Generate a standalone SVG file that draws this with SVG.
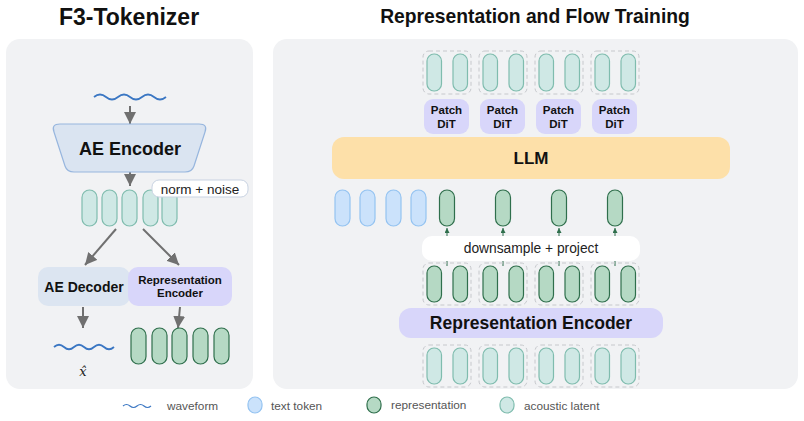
<svg xmlns="http://www.w3.org/2000/svg" width="804" height="421" viewBox="0 0 804 421">
<style>
.panel{fill:#f1f2f4}
.title{font-family:"Liberation Sans",Arial,sans-serif;font-weight:bold;fill:#111;text-anchor:middle}
.b{font-family:"Liberation Sans",Arial,sans-serif;font-weight:bold;fill:#111;text-anchor:middle}
.r{font-family:"Liberation Sans",Arial,sans-serif;fill:#222;text-anchor:middle}
.leg{font-family:"Liberation Sans",Arial,sans-serif;fill:#555;font-size:11.8px}
.ac{fill:#cfe8e5;stroke:#7fbcae;stroke-width:1.2}
.rep{fill:#b5d9c4;stroke:#2f6f4c;stroke-width:1.2}
.txt{fill:#cbe2fb;stroke:#94c3f1;stroke-width:1.2}
.grp{fill:none;stroke:#c6c8cc;stroke-width:1;stroke-dasharray:4 3}
.lav{fill:#d8d6fa}
.wave{fill:none;stroke:#3b77c3;stroke-width:1.8}
.arr{stroke:#707070;stroke-width:2;fill:none}
.up{stroke:#2f6f4c;stroke-width:1;fill:none}
</style>
<defs>
<marker id="ah" markerUnits="userSpaceOnUse" markerWidth="12" markerHeight="12" refX="12" refY="6" orient="auto"><path d="M0,0 L12,6 L0,12 z" fill="#707070"/></marker>
<marker id="ag" markerUnits="userSpaceOnUse" markerWidth="5" markerHeight="5" refX="5" refY="2.5" orient="auto"><path d="M0,0 L5,2.5 L0,5 z" fill="#2f6f4c"/></marker>
</defs>

<text class="title" x="129" y="25" font-size="23">F3-Tokenizer</text>
<text class="title" x="535" y="23" font-size="19.3">Representation and Flow Training</text>

<rect class="panel" x="6" y="39" width="247" height="350" rx="14"/>
<rect class="panel" x="273" y="39" width="525" height="350" rx="14"/>

<g id="connectors">
<line class="arr" x1="130" y1="106" x2="130" y2="124" marker-end="url(#ah)"/>
<line class="arr" x1="130" y1="172" x2="130" y2="186" marker-end="url(#ah)"/>
<line class="arr" x1="116" y1="229" x2="85" y2="265" marker-end="url(#ah)"/>
<line class="arr" x1="143" y1="229" x2="179" y2="265" marker-end="url(#ah)"/>
<line class="arr" x1="83" y1="307" x2="83" y2="328" marker-end="url(#ah)"/>
<line class="arr" x1="180" y1="307" x2="178" y2="328" marker-end="url(#ah)"/>
<line class="up" x1="447" y1="266" x2="447" y2="228" marker-end="url(#ag)"/>
<line class="up" x1="503" y1="266" x2="503" y2="228" marker-end="url(#ag)"/>
<line class="up" x1="559" y1="266" x2="559" y2="228" marker-end="url(#ag)"/>
<line class="up" x1="615" y1="266" x2="615" y2="228" marker-end="url(#ag)"/>
</g>

<g id="input-wave"><path class="wave" d="M94,97 q6,-5 12,0 t12,0 t12,0 t12,0 t12,0 t12,0"/></g>

<g id="ae-encoder">
<path d="M60,124 H199 Q208,124 205,132 L194,166 Q192,172 185,172 H74 Q67,172 65,166 L54,132 Q51,124 60,124 Z" fill="#dae4f1" stroke="#97b6de" stroke-width="1.2"/>
<text class="b" x="130" y="155" font-size="18">AE Encoder</text>
</g>

<g id="latent-tokens">
<rect class="ac" x="82" y="190" width="15" height="36" rx="7.5"/>
<rect class="ac" x="102" y="190" width="15" height="36" rx="7.5"/>
<rect class="ac" x="122" y="190" width="15" height="36" rx="7.5"/>
<rect class="ac" x="143" y="190" width="15" height="36" rx="7.5"/>
<rect class="ac" x="162" y="190" width="15" height="36" rx="7.5"/>
</g>

<g id="norm-noise">
<rect x="152" y="180" width="96" height="17" rx="7" fill="#fff" stroke="#c9d3e2" stroke-width="1"/>
<text class="r" x="200" y="194" font-size="13.5">norm + noise</text>
</g>

<g id="ae-decoder">
<rect x="38" y="267" width="92" height="39" rx="10" fill="#dce5f1"/>
<text class="b" x="84" y="292" font-size="14">AE Decoder</text>
</g>

<g id="rep-encoder-left">
<rect x="128" y="267" width="104" height="39" rx="10" class="lav"/>
<text class="b" x="180" y="284" font-size="11.5">Representation</text>
<text class="b" x="180" y="297" font-size="11.5">Encoder</text>
</g>

<g id="output-wave">
<path class="wave" d="M54,347 q5,-4.5 10,0 t10,0 t10,0 t10,0 t10,0 t10,0"/>
<text x="83" y="376" font-family="'DejaVu Serif','Liberation Serif',serif" font-style="italic" font-size="13" fill="#222" text-anchor="middle">x̂</text>
</g>

<g id="rep-tokens-left">
<rect class="rep" x="131" y="328" width="15" height="36" rx="7.5"/>
<rect class="rep" x="152" y="328" width="15" height="36" rx="7.5"/>
<rect class="rep" x="172" y="328" width="15" height="36" rx="7.5"/>
<rect class="rep" x="193" y="328" width="15" height="36" rx="7.5"/>
<rect class="rep" x="214" y="328" width="15" height="36" rx="7.5"/>
</g>

<g id="top-acoustic">
<rect class="grp" x="423" y="51" width="48" height="43" rx="6"/>
<rect class="grp" x="479" y="51" width="48" height="43" rx="6"/>
<rect class="grp" x="535" y="51" width="48" height="43" rx="6"/>
<rect class="grp" x="591" y="51" width="48" height="43" rx="6"/>
<rect class="ac" x="427" y="54" width="14.5" height="37" rx="7"/>
<rect class="ac" x="453" y="54" width="14.5" height="37" rx="7"/>
<rect class="ac" x="483" y="54" width="14.5" height="37" rx="7"/>
<rect class="ac" x="509" y="54" width="14.5" height="37" rx="7"/>
<rect class="ac" x="539" y="54" width="14.5" height="37" rx="7"/>
<rect class="ac" x="565" y="54" width="14.5" height="37" rx="7"/>
<rect class="ac" x="595" y="54" width="14.5" height="37" rx="7"/>
<rect class="ac" x="621" y="54" width="14.5" height="37" rx="7"/>
</g>

<g id="patch-dit-1"><rect class="lav" x="424" y="99" width="45" height="35" rx="9"/><text class="b" x="446.5" y="114" font-size="11.5">Patch</text><text class="b" x="446.5" y="127.5" font-size="11.5">DiT</text></g>
<g id="patch-dit-2"><rect class="lav" x="480" y="99" width="45" height="35" rx="9"/><text class="b" x="502.5" y="114" font-size="11.5">Patch</text><text class="b" x="502.5" y="127.5" font-size="11.5">DiT</text></g>
<g id="patch-dit-3"><rect class="lav" x="536" y="99" width="45" height="35" rx="9"/><text class="b" x="558.5" y="114" font-size="11.5">Patch</text><text class="b" x="558.5" y="127.5" font-size="11.5">DiT</text></g>
<g id="patch-dit-4"><rect class="lav" x="592" y="99" width="45" height="35" rx="9"/><text class="b" x="614.5" y="114" font-size="11.5">Patch</text><text class="b" x="614.5" y="127.5" font-size="11.5">DiT</text></g>

<g id="llm">
<rect x="332" y="137" width="398" height="42" rx="12" fill="#fde0a9"/>
<text class="b" x="531" y="164" font-size="17">LLM</text>
</g>

<g id="input-sequence">
<rect class="txt" x="335" y="190" width="15" height="36" rx="7.5"/>
<rect class="txt" x="360" y="190" width="15" height="36" rx="7.5"/>
<rect class="txt" x="386" y="190" width="15" height="36" rx="7.5"/>
<rect class="txt" x="411" y="190" width="15" height="36" rx="7.5"/>
<rect class="rep" x="439.5" y="190" width="15" height="36" rx="7.5"/>
<rect class="rep" x="495.5" y="190" width="15" height="36" rx="7.5"/>
<rect class="rep" x="551.5" y="190" width="15" height="36" rx="7.5"/>
<rect class="rep" x="607.5" y="190" width="15" height="36" rx="7.5"/>
</g>

<g id="downsample">
<rect x="422" y="236" width="218" height="25" rx="10" fill="#fff"/>
<text class="r" x="531" y="252.5" font-size="13.8">downsample + project</text>
</g>

<g id="rep-tokens-right">
<rect class="grp" x="423" y="263" width="48" height="42" rx="6"/>
<rect class="grp" x="479" y="263" width="48" height="42" rx="6"/>
<rect class="grp" x="535" y="263" width="48" height="42" rx="6"/>
<rect class="grp" x="591" y="263" width="48" height="42" rx="6"/>
<rect class="rep" x="427" y="266" width="14.5" height="36" rx="7"/>
<rect class="rep" x="453" y="266" width="14.5" height="36" rx="7"/>
<rect class="rep" x="483" y="266" width="14.5" height="36" rx="7"/>
<rect class="rep" x="509" y="266" width="14.5" height="36" rx="7"/>
<rect class="rep" x="539" y="266" width="14.5" height="36" rx="7"/>
<rect class="rep" x="565" y="266" width="14.5" height="36" rx="7"/>
<rect class="rep" x="595" y="266" width="14.5" height="36" rx="7"/>
<rect class="rep" x="621" y="266" width="14.5" height="36" rx="7"/>
</g>

<g id="rep-encoder-right">
<rect class="lav" x="399" y="308" width="264" height="30" rx="12"/>
<text class="b" x="531" y="329" font-size="17.5">Representation Encoder</text>
</g>

<g id="bottom-acoustic">
<rect class="grp" x="423" y="345" width="48" height="42" rx="6"/>
<rect class="grp" x="479" y="345" width="48" height="42" rx="6"/>
<rect class="grp" x="535" y="345" width="48" height="42" rx="6"/>
<rect class="grp" x="591" y="345" width="48" height="42" rx="6"/>
<rect class="ac" x="427" y="348" width="14.5" height="36" rx="7"/>
<rect class="ac" x="453" y="348" width="14.5" height="36" rx="7"/>
<rect class="ac" x="483" y="348" width="14.5" height="36" rx="7"/>
<rect class="ac" x="509" y="348" width="14.5" height="36" rx="7"/>
<rect class="ac" x="539" y="348" width="14.5" height="36" rx="7"/>
<rect class="ac" x="565" y="348" width="14.5" height="36" rx="7"/>
<rect class="ac" x="595" y="348" width="14.5" height="36" rx="7"/>
<rect class="ac" x="621" y="348" width="14.5" height="36" rx="7"/>
</g>

<g id="legend">
<path d="M123,406 q3.5,-3 7,0 t7,0 t7,0 t7,0" fill="none" stroke="#3b77c3" stroke-width="1.2"/>
<text class="leg" x="167" y="410">waveform</text>
<rect class="txt" x="248" y="397" width="14" height="16" rx="7"/>
<text class="leg" x="271" y="410">text token</text>
<rect class="rep" x="367" y="397" width="14" height="16" rx="7"/>
<text class="leg" x="391" y="409">representation</text>
<rect class="ac" x="500" y="397" width="14" height="16" rx="7"/>
<text class="leg" x="524" y="410">acoustic latent</text>
</g>
</svg>
